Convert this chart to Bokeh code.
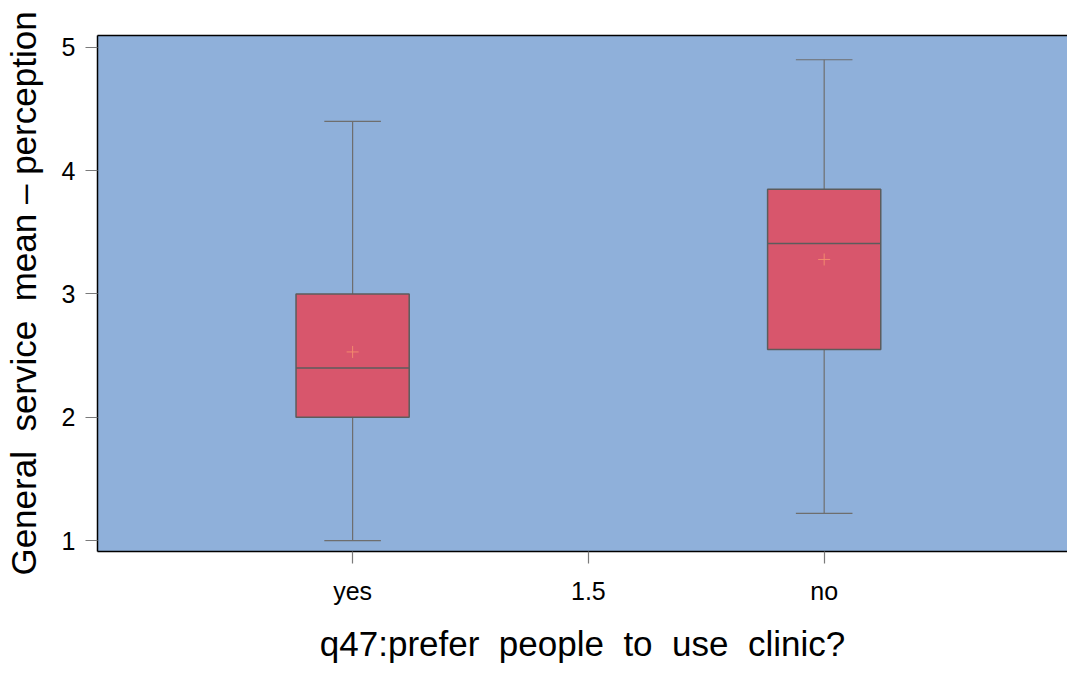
from bokeh.plotting import figure
from bokeh.models import ColumnDataSource, FixedTicker, LinearAxis, Range1d
from bokeh.embed import file_html
from bokeh.resources import INLINE

categories = ["yes", "no"]
positions = [1, 2]
q1 = [2.0, 2.55]
median = [2.4, 3.41]
q3 = [3.0, 3.85]
lower = [1.0, 1.22]
upper = [4.4, 4.9]
mean = [2.53, 3.28]
x_ticks = [1, 1.5, 2]
x_tick_labels = {1: "yes", 1.5: "1.5", 2: "no"}
y_ticks = [1, 2, 3, 4, 5]

BOX_W = 0.24
CAP_W = 0.12

src = ColumnDataSource(dict(
    x=positions, q1=q1, median=median, q3=q3, lower=lower, upper=upper, mean=mean,
    xl=[p - BOX_W / 2 for p in positions], xr=[p + BOX_W / 2 for p in positions],
    cl=[p - CAP_W / 2 for p in positions], cr=[p + CAP_W / 2 for p in positions],
))

p = figure(width=1067, height=665, output_backend="svg", toolbar_location=None,
           x_range=Range1d(0.459, 2.516), y_range=Range1d(0.9115, 5.0966),
           min_border_left=94, min_border_top=35, min_border_right=0, min_border_bottom=110)
p.background_fill_color = "#8FB0DA"
p.border_fill_color = "white"
p.outline_line_color = None
p.grid.visible = False

FONT = "Liberation Sans"

# whiskers
p.segment(x0="x", y0="q3", x1="x", y1="upper", source=src, line_color="#6e6e6e", line_width=1.2)
p.segment(x0="x", y0="lower", x1="x", y1="q1", source=src, line_color="#6e6e6e", line_width=1.2)
p.segment(x0="cl", y0="upper", x1="cr", y1="upper", source=src, line_color="#6e6e6e", line_width=1.2)
p.segment(x0="cl", y0="lower", x1="cr", y1="lower", source=src, line_color="#6e6e6e", line_width=1.2)
# boxes
p.vbar(x="x", width=BOX_W, top="q3", bottom="q1", source=src,
       fill_color="#D8566C", line_color="#5c5c5c", line_width=1.5)
p.segment(x0="xl", y0="median", x1="xr", y1="median", source=src, line_color="#5c5c5c", line_width=1.5)
# mean
p.scatter(x="x", y="mean", source=src, marker="cross", size=12, line_color="#F28A6E", line_width=1)

for ax in (p.xaxis[0], p.yaxis[0]):
    ax.axis_line_color = "black"
    ax.axis_line_width = 1.5
    ax.major_tick_line_color = "#7a7a7a"
    ax.major_tick_line_width = 1.2
    ax.major_tick_out = 12
    ax.major_tick_in = 0
    ax.minor_tick_line_color = None
    ax.major_label_text_font = FONT
    ax.major_label_text_font_size = "25px"
    ax.major_label_text_color = "black"
    ax.axis_label_text_font = FONT
    ax.axis_label_text_font_style = "normal"
    ax.axis_label_text_color = "black"

p.xaxis.ticker = FixedTicker(ticks=x_ticks)
p.xaxis.major_label_overrides = x_tick_labels
p.xaxis.major_label_standoff = 13
p.xaxis.axis_label = "q47:prefer\u00a0 people\u00a0 to\u00a0 use\u00a0 clinic?"
p.xaxis.axis_label_text_font_size = "35px"
p.xaxis.axis_label_standoff = 16

p.yaxis.ticker = FixedTicker(ticks=y_ticks)
p.yaxis.major_label_standoff = 10
p.yaxis.axis_label = "General\u00a0 service\u00a0 mean \u2013 perception"
p.yaxis.axis_label_text_font_size = "35px"
p.yaxis.axis_label_standoff = 16

top_axis = LinearAxis(ticker=FixedTicker(ticks=[]), axis_line_color="black", axis_line_width=1.5,
                      major_label_text_font_size="0px", major_tick_line_color=None,
                      minor_tick_line_color=None)
p.add_layout(top_axis, "above")

open("out.html", "w").write(file_html(p, INLINE))
